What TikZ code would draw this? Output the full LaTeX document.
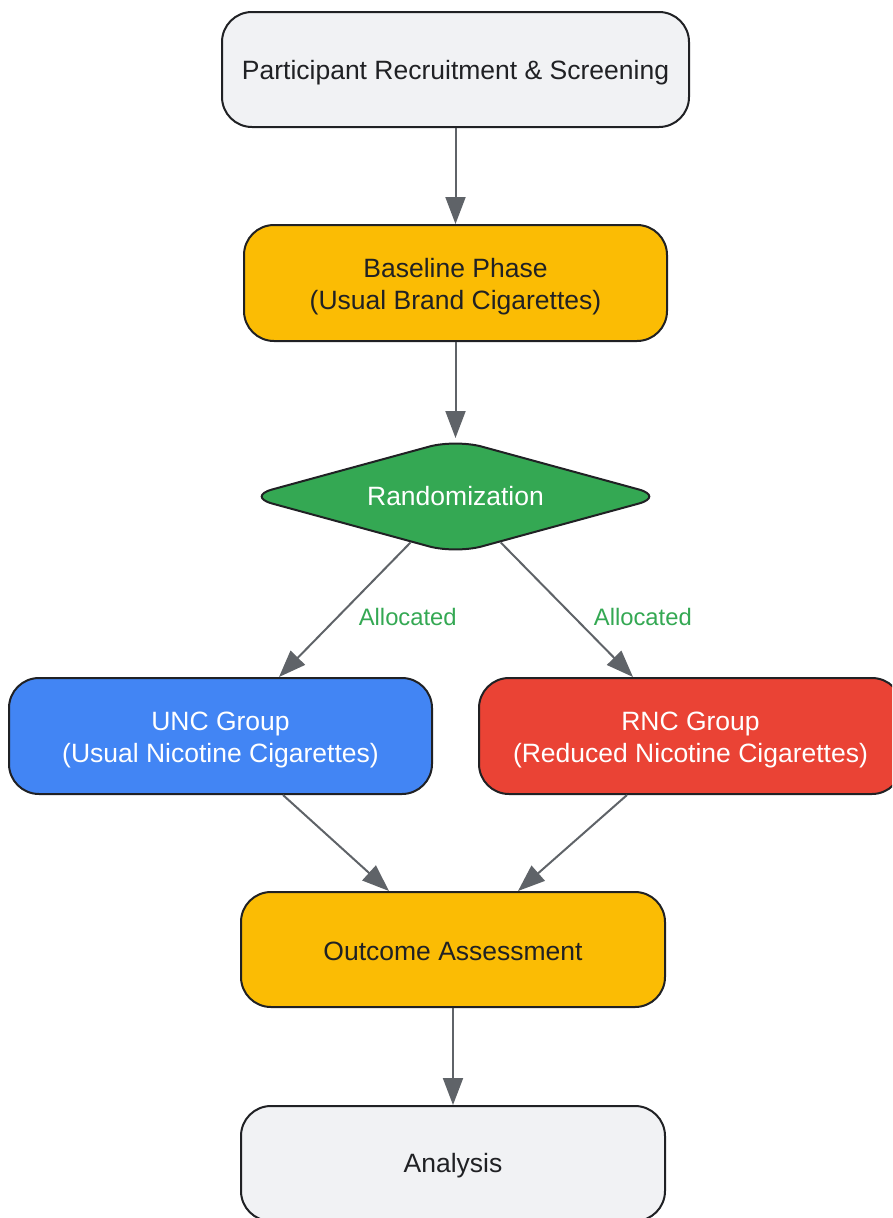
\documentclass[tikz,border=0pt]{standalone}
\usepackage{fontspec}
\setmainfont{Liberation Sans}
\usetikzlibrary{shapes.geometric,arrows.meta,calc}
\definecolor{boxgray}{HTML}{F1F2F4}
\definecolor{gyellow}{HTML}{FBBC04}
\definecolor{gblue}{HTML}{4285F4}
\definecolor{gred}{HTML}{EA4335}
\definecolor{ggreen}{HTML}{34A853}
\definecolor{arrgray}{HTML}{5F6368}
\definecolor{strokec}{HTML}{202124}
\definecolor{txtdark}{HTML}{202124}
\newcommand\mainfs{\fontsize{26.5}{31.8}\selectfont}
\newcommand\lblfs{\fontsize{23.8}{28}\selectfont}
\newcommand\tstrut[1]{\rule{0pt}{#1}}
\tikzset{
  box/.style={draw=strokec, line width=2pt, rounded corners=30pt, minimum width=423pt,
    minimum height=116pt, inner sep=0pt, align=center, font=\mainfs, text=txtdark},
  decide/.style={diamond, draw=strokec, line width=2pt, rounded corners=27pt, aspect=3.6,
    minimum width=419pt, minimum height=115pt, inner sep=0pt, font=\mainfs, text=white, fill=ggreen},
  arr/.style={draw=arrgray, line width=2pt, -{Triangle[length=27pt,width=20pt]}},
  lbl/.style={font=\lblfs, text=ggreen, inner sep=0pt}
}
\begin{document}
\begin{tikzpicture}[x=1pt,y=-1pt]
\useasboundingbox (0,0) rectangle (892,1218);
\clip (0,0) rectangle (892,1218);
\node[box, fill=boxgray, minimum width=467pt, minimum height=115pt] (rec) at (455.5,69.5) {\tstrut{25pt}Participant Recruitment \& Screening};
\node[box, fill=gyellow] (base) at (455.5,283) {\tstrut{26.5pt}Baseline Phase\\(Usual Brand Cigarettes)};
\node[decide] (rand) at (455.5,496.5) {Randomization};
\node[box, fill=gblue, text=white] (unc) at (220.5,736) {\tstrut{26.5pt}UNC Group\\(Usual Nicotine Cigarettes)};
\node[box, fill=gred, text=white] (rnc) at (690.5,736) {\tstrut{26.5pt}RNC Group\\(Reduced Nicotine Cigarettes)};
\node[box, fill=gyellow, minimum width=424pt, minimum height=115pt] (out) at (453,949.5) {\tstrut{23pt}Outcome Assessment};
\node[box, fill=boxgray, minimum width=424pt, minimum height=115pt] (ana) at (453,1163.5) {\tstrut{23pt}Analysis};
\draw[arr] (rec.south) -- (base.north);
\draw[arr] (base.south) -- (rand.north);
\draw[arr] (rand) -- node[lbl, pos=0.5, xshift=63pt, yshift=-7pt] {Allocated} ([xshift=58.5pt]unc.north);
\draw[arr] (rand) -- node[lbl, pos=0.5, xshift=76pt, yshift=-7pt] {Allocated} ([xshift=-57.5pt]rnc.north);
\draw[arr] ([xshift=62.5pt]unc.south) -- ([xshift=-64pt]out.north);
\draw[arr] ([xshift=-63.5pt]rnc.south) -- ([xshift=65pt]out.north);
\draw[arr] (out.south) -- (ana.north);
\end{tikzpicture}
\end{document}
